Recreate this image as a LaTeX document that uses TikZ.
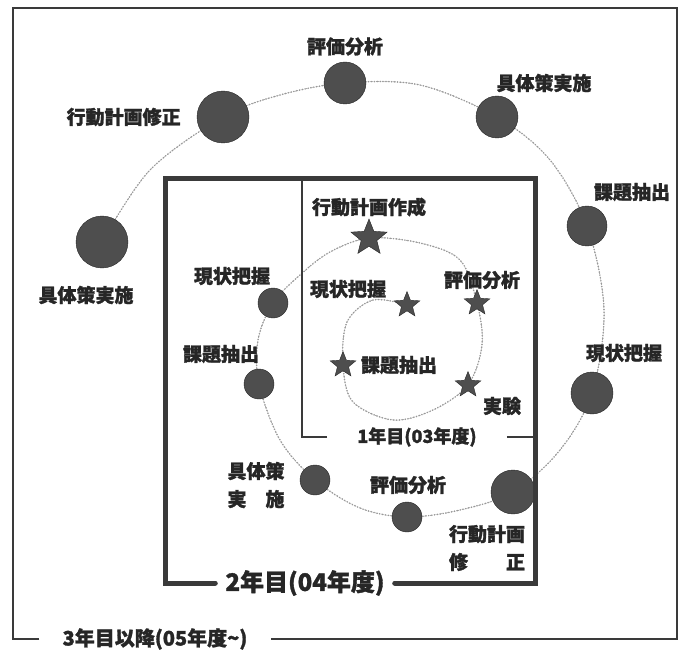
\documentclass[tikz,border=0pt]{standalone}
\usepackage{fontspec}
\setmainfont{Noto Sans CJK JP}[BoldFeatures={FakeBold=1.4}]
\usepackage{tikz}
\usetikzlibrary{positioning,shapes.geometric,backgrounds}
\definecolor{dotgray}{HTML}{4E4E4E}
\definecolor{linegray}{HTML}{3A3A3A}
\definecolor{trail}{HTML}{989898}
\tikzset{
  bigdot/.style={
    circle, draw=black!85, fill=dotgray, thin,
    minimum size=#1, inner sep=0pt
  },
  bigdot/.default=42pt,
  stardot/.style={
    star, star points=5, star point ratio=2.3,
    draw=black!85, fill=dotgray, thin,
    minimum size=#1, inner sep=0pt
  },
  stardot/.default=27pt,
  steplabel/.style={
    font=\fontsize{19}{28}\selectfont\bfseries, text=black!85,
    align=center, inner sep=1pt
  },
  yearlabel/.style={
    font=\fontsize{#1}{#1}\selectfont\bfseries, text=black!85,
    inner ysep=0pt
  },
  yearlabel/.default=18,
  frameline/.style={draw=linegray, line width=1.3pt},
  yearline/.style={draw=linegray, line width=2pt},
  boxline/.style={draw=linegray, line width=5pt, line cap=round},
  trailline/.style={
    draw=trail, line width=#1, line cap=round,
    dash pattern=on 0pt off 2.6pt
  },
  trailline/.default=1.6pt,
}

\begin{document}
\begin{tikzpicture}[x=1pt, y=-1pt]
  \useasboundingbox (0,0) rectangle (688,650);

  % 3rd year and later - outer ring
  \node[bigdot=42pt] (hyo3) at (345,83) {};
  \node[bigdot=52pt] (kou3) at (223,117) {};
  \node[bigdot=42pt] (gut3) at (497,117) {};
  \node[bigdot=40pt] (kad3) at (587,226) {};
  \node[bigdot=52pt] (gutL3) at (102,242) {};
  \node[bigdot=42pt] (gen3) at (592,393) {};

  % 2nd year - middle ring
  \node[bigdot=30pt] (gen2) at (273,303) {};
  \node[bigdot=30pt] (kad2) at (259,384) {};
  \node[bigdot=30pt] (gut2) at (315,480) {};
  \node[bigdot=30pt] (hyo2) at (407,517) {};
  \node[bigdot=44pt] (kou2) at (513,492) {};

  % 1st year - stars
  \node[stardot=38pt] (kei1) at (369,238) {};
  \node[stardot] (gen1) at (407,305) {};
  \node[stardot] (hyo1) at (477,303) {};
  \node[stardot] (kad1) at (343,365) {};
  \node[stardot] (jik1) at (468,385) {};

  % labels
  \node[steplabel, above=5pt of hyo3] (lb-hyo3) {評価分析};
  \node[steplabel, left=15pt of kou3] (lb-kou3) {行動計画修正};
  \node[steplabel] at (544,83) (lb-gut3) {具体策実施};
  \node[steplabel] at (632,192) (lb-kad3) {課題抽出};
  \node[steplabel] at (86,295) (lb-gutL3) {具体策実施};
  \node[steplabel] at (624,353) (lb-gen3) {現状把握};

  \node[steplabel] at (232,276) (lb-gen2) {現状把握};
  \node[steplabel] at (221,354) (lb-kad2) {課題抽出};
  \node[steplabel] at (256,485) (lb-gut2) {具体策\\実　施};
  \node[steplabel] at (408,485) (lb-hyo2) {評価分析};
  \node[steplabel] at (487,548) (lb-kou2) {行動計画\\修　　正};

  \node[steplabel] at (369,207) (lb-kei1) {行動計画作成};
  \node[steplabel] at (348,289) (lb-gen1) {現状把握};
  \node[steplabel] at (482,280) (lb-hyo1) {評価分析};
  \node[steplabel] at (399,365) (lb-kad1) {課題抽出};
  \node[steplabel] at (502,406) (lb-jik1) {実験};

  % year frames
  \node[yearlabel=18, inner xsep=30pt] (y1) at (417,437) {1年目(03年度)};
  \node[yearlabel=24, inner xsep=10pt] (y2) at (305,583) {2年目(04年度)};
  \node[yearlabel=20, inner xsep=23pt] (y3) at (155,639) {3年目以降(05年度\textasciitilde)};

  \coordinate (b1-top) at (302,178);
  \coordinate (b2-nw) at (165,178);
  \coordinate (b2-ne) at (535,178);
  \coordinate (b2-se) at (535,583);
  \coordinate (b2-sw) at (165,583);
  \coordinate (o-nw) at (13,8);
  \coordinate (o-ne) at (677,8);
  \coordinate (o-se) at (677,639);
  \coordinate (o-sw) at (13,639);

  \draw[frameline] (y3.west) -- (o-sw) -- (o-nw) -- (o-ne) -- (o-se) -- (y3.east);
  \draw[boxline] (y2.west) -- (b2-sw) -- (b2-nw) -- (b2-ne) -- (b2-se) -- (y2.east);
  \draw[yearline] (y1.west) -| (b1-top);
  \draw[yearline] (y1.east) -- (y1.east -| b2-se);

  % spiral trail under everything
  \begin{scope}[on background layer]
    \foreach \w/\gap in {1.7pt/2.9pt, 1pt/1.9pt} {
      \draw[trailline=\w, dash pattern=on 0pt off \gap] plot[smooth, tension=0.55] coordinates {
        (gen1.center) (373,300) (347,322) (kad1.center) (353,402) (393,420)
        (433,410) (jik1.center) (482,345) (hyo1.center) (460,260) (420,243)
        (kei1.center) (330,252) (300,275) (gen2.center) (258,340)
        (kad2.center) (280,440) (gut2.center) (360,508) (hyo2.center)
        (460,510) (kou2.center) (560,450) (gen3.center) (604,310)
        (kad3.center) (550,160) (gut3.center) (420,85) (hyo3.center)
        (280,95) (kou3.center) (150,170) (gutL3.center)};
    }
  \end{scope}
\end{tikzpicture}
\end{document}
